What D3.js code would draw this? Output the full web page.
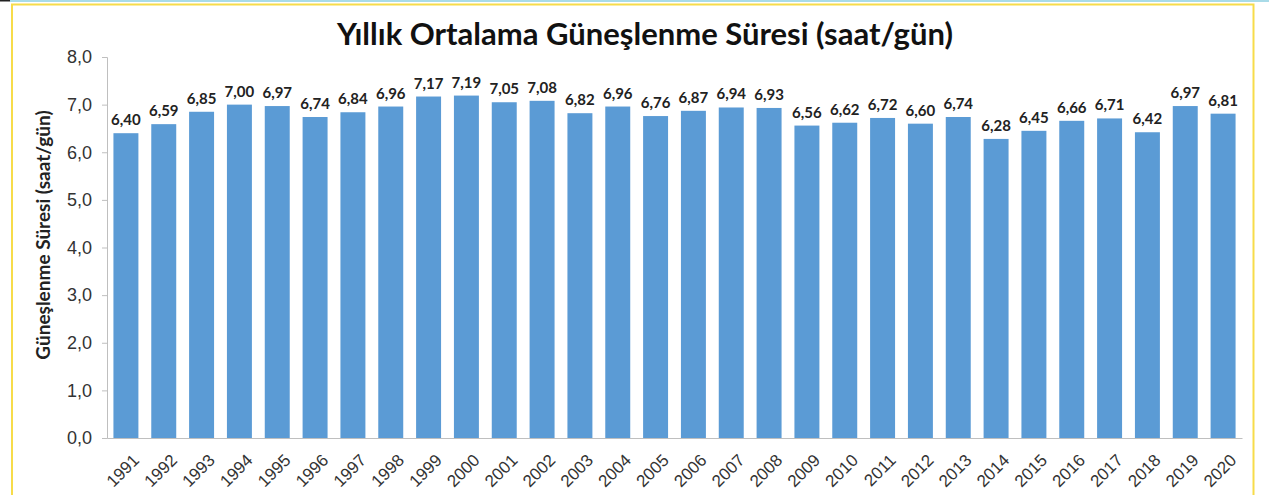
<!DOCTYPE html>
<html>
<head>
<meta charset="utf-8">
<script src="https://cdn.jsdelivr.net/npm/d3@7"></script>
<style>
  html, body { margin: 0; padding: 0; background: #fff; }
  svg { display: block; font-family: Lato, "Open Sans", sans-serif; }
</style>
</head>
<body>
<div id="chart"></div>
<script>
// Yearly average sunshine duration (hours/day)
const years = ["1991","1992","1993","1994","1995","1996","1997","1998","1999","2000",
               "2001","2002","2003","2004","2005","2006","2007","2008","2009","2010",
               "2011","2012","2013","2014","2015","2016","2017","2018","2019","2020"];
const hours = [6.40, 6.59, 6.85, 7.00, 6.97, 6.74, 6.84, 6.96, 7.17, 7.19,
               7.05, 7.08, 6.82, 6.96, 6.76, 6.87, 6.94, 6.93, 6.56, 6.62,
               6.72, 6.60, 6.74, 6.28, 6.45, 6.66, 6.71, 6.42, 6.97, 6.81];
const yTicks = [0, 1, 2, 3, 4, 5, 6, 7, 8];

const titleText = "Yıllık Ortalama Güneşlenme Süresi (saat/gün)";
const yLabelText = "Güneşlenme Süresi (saat/gün)";

const W = 1269, H = 495;
const margin = { top: 57, right: 27, bottom: 57, left: 107 };
const width = W - margin.left - margin.right,
      height = H - margin.top - margin.bottom;

// turkish style decimals
const tr = d3.formatLocale({ decimal: ",", thousands: ".", grouping: [3], currency: ["", "₺"] });
const fmt = tr.format(".2f");
const fmtTick = tr.format(".1f");

const svg = d3.select("#chart")
  .append("svg")
  .attr("width", W)
  .attr("height", H);

// outer frame: thin blue line at top, yellow border
svg.append("rect")
  .attr("x", 10).attr("y", 0)
  .attr("width", 1259).attr("height", 2)
  .style("fill", "#a9dbe8");
svg.append("rect")
  .attr("x", 0).attr("y", 0)
  .attr("width", 10).attr("height", 1.5)
  .style("fill", "#222");
svg.append("rect")
  .attr("x", 12).attr("y", 4.5)
  .attr("width", 1241.5).attr("height", 500)
  .style("fill", "none")
  .style("stroke", "#f7dc4a")
  .style("stroke-width", 2);

const g = svg.append("g")
  .attr("transform", `translate(${margin.left},${margin.top})`);

const x = d3.scaleBand()
  .domain(years)
  .range([0, width])
  .paddingInner(0.34)
  .paddingOuter(0.17);

const y = d3.scaleLinear()
  .domain([0, 8])
  .range([height, 0]);

// Y axis
const yAxis = g.append("g")
  .call(d3.axisLeft(y).tickValues(yTicks).tickFormat(fmtTick).tickSize(5).tickPadding(10));
yAxis.select(".domain").style("stroke", "#bfbfbf");
yAxis.selectAll(".tick line").style("stroke", "#bfbfbf");
yAxis.selectAll(".tick text")
  .style("font-size", "18px")
  .style("fill", "#333");

// X axis
const xAxis = g.append("g")
  .attr("transform", `translate(0,${height})`)
  .call(d3.axisBottom(x).tickSize(0).tickSizeOuter(0));
xAxis.select(".domain").style("stroke", "#bfbfbf");
xAxis.selectAll(".tick text")
  .attr("text-anchor", "end")
  .attr("dy", "0.35em")
  .attr("transform", "translate(8,17) rotate(-45)")
  .style("font-size", "17px")
  .style("fill", "#333");

// Bars
g.selectAll("rect.bar")
  .data(hours)
  .enter()
  .append("rect")
  .attr("class", "bar")
  .attr("x", (d, i) => x(years[i]))
  .attr("y", d => y(d))
  .attr("width", x.bandwidth())
  .attr("height", d => height - y(d))
  .style("fill", "#5b9bd5");

// Value labels
g.selectAll("text.value")
  .data(hours)
  .enter()
  .append("text")
  .attr("class", "value")
  .attr("x", (d, i) => x(years[i]) + x.bandwidth() / 2)
  .attr("y", d => y(d) - 8)
  .attr("text-anchor", "middle")
  .style("font-size", "15px")
  .style("font-weight", "bold")
  .style("fill", "#222")
  .text(d => fmt(d));

// Y axis label
svg.append("text")
  .attr("transform", "translate(50,235) rotate(-90)")
  .attr("text-anchor", "middle")
  .style("font-size", "19px")
  .style("font-weight", "bold")
  .style("fill", "#222")
  .text(yLabelText);

// Title
svg.append("text")
  .attr("x", 645)
  .attr("y", 45)
  .attr("text-anchor", "middle")
  .style("font-size", "31px")
  .style("font-weight", "bold")
  .style("fill", "#111")
  .text(titleText);
</script>
</body>
</html>
